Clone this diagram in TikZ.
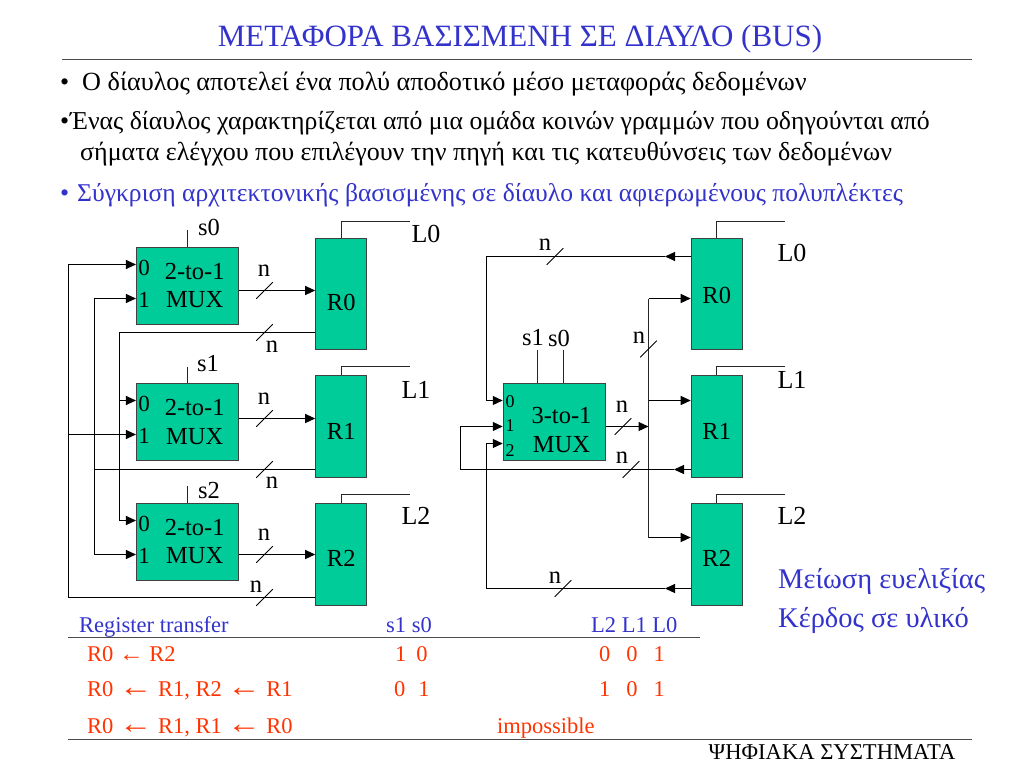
\documentclass[tikz,border=0pt]{standalone}
\usepackage{fontspec}
\setmainfont{Liberation Serif}
\usetikzlibrary{arrows.meta,calc}
\definecolor{teal0}{HTML}{00CC99}
\definecolor{blue0}{HTML}{3333CC}
\definecolor{red0}{HTML}{FF3300}
\newcommand{\fs}[1]{\fontsize{#1}{#1}\selectfont}
\newcommand{\bigarr}{{\fs{29}\scalebox{1.15}[1]{←}}}

\begin{document}
\begin{tikzpicture}[x=1pt,y=-1pt,
      muxbox/.style={draw=black!75, fill=teal0, line width=1pt, minimum width=102.5pt, minimum height=77pt, inner sep=0pt, align=center, font=\fs{24.5}},
      regbox/.style={draw=black!75, fill=teal0, line width=1pt, minimum width=51pt, inner sep=0pt, text depth=0pt, font=\fs{24.5}},
      lbl/.style={inner sep=0pt, font=\fs{24.5}},
      port/.style={inner sep=0pt, font=\fs{23}},
      txt/.style={anchor=base west, inner sep=0pt, font=\fs{26}},
      tbl/.style={anchor=base west, inner sep=0pt, font=\fs{22.5}},
      arr/.style={-{Stealth[length=10pt,width=9pt,inset=0pt]}, line width=1.1pt},
      wire/.style={line width=1.1pt, black!85},
      tick/.style={line width=0.8pt},
      rule/.style={line width=1pt, black!70}
    ]
    \useasboundingbox (0,0) rectangle (1024,768);

    % heading and text
    \node[inner sep=0pt, text=blue0, font=\fs{31}] (title) at (520,39) {ΜΕΤΑΦΟΡΑ ΒΑΣΙΣΜΕΝΗ ΣΕ ΔΙΑΥΛΟ (BUS)};
    \draw[rule] (62,59.5) -- (972,59.5);
    \node[txt] (b1) at (60,90) {•};
    \node[txt, font=\fs{26.2}] (t1) at (82,90) {Ο δίαυλος αποτελεί ένα πολύ αποδοτικό μέσο μεταφοράς δεδομένων};
    \node[txt] (b2) at (60,129) {•};
    \node[txt, font=\fs{25.75}] (t2) at (70,129) {Ένας δίαυλος χαρακτηρίζεται από μια ομάδα κοινών γραμμών που οδηγούνται από};
    \node[txt] (t3) at (80,160) {σήματα ελέγχου που επιλέγουν την πηγή και τις κατευθύνσεις των δεδομένων};
    \node[txt, text=blue0] (b4) at (60,201) {•};
    \node[txt, text=blue0, font=\fs{25.6}] (t4) at (77,201) {Σύγκριση αρχιτεκτονικής βασισμένης σε δίαυλο και αφιερωμένους πολυπλέκτες};

    % left: one mux per register
    \foreach \i/\ym/\yp in {0/285.5/264, 1/422/400.7, 2/541.5/520.7} {
      \node[muxbox] (mux\i) at (187.7,\ym) {\hspace*{14pt}2-to-1\\[4pt]\hspace*{14pt}MUX};
      \node[port] (pa\i) at (144,\yp+3.5) {0};
      \node[port] (pb\i) at (144,\yp+35.5) {1};
    }
    \node[regbox, minimum height=110.5pt, text height=32pt] (r0) at (341.2,294) {R0};
    \node[regbox, minimum height=102.7pt, text height=26pt] (r1) at (341.2,426.4) {R1};
    \node[regbox, minimum height=102.7pt, text height=24pt] (r2) at (341.2,554.4) {R2};

    \draw[arr] (mux0.east |- 0,290.5) -- (r0.west |- 0,290.5);
    \draw[arr] (mux1.east |- 0,418.5) -- (r1.west |- 0,418.5);
    \draw[arr] (mux2.east |- 0,554.5) -- (r2.west |- 0,554.5);

    \draw[arr] (r2.west |- 0,597.5) -- (68.5,597.5) -- (68.5,264.5) -- (mux0.west |- 0,264.5);
    \draw[arr] (68.5,434.5) -- (mux1.west |- 0,434.5);
    \draw[arr] (r1.west |- 0,469.5) -- (94.5,469.5) -- (94.5,298.5) -- (mux0.west |- 0,298.5);
    \draw[arr] (94.5,469.5) -- (94.5,554.5) -- (mux2.west |- 0,554.5);
    \draw[arr] (r0.west |- 0,332.5) -- (119.5,332.5) -- (119.5,520.5) -- (mux2.west |- 0,520.5);
    \draw[arr] (119.5,400.5) -- (mux1.west |- 0,400.5);

    % right: one mux shared
    \node[muxbox] (mux3) at (554.5,422) {};
    \node[lbl] (m3a) at (561.5,416) {3-to-1};
    \node[lbl] (m3b) at (561.5,445) {MUX};
    \node[port, font=\fs{18}] (pc0) at (510,402) {0};
    \node[port, font=\fs{18}] (pc1) at (510,426) {1};
    \node[port, font=\fs{18}] (pc2) at (510,451) {2};
    \node[regbox, minimum height=110.5pt, text height=18pt] (r3) at (716.7,294) {R0};
    \node[regbox, minimum height=102.7pt, text height=26pt] (r4) at (716.7,426.4) {R1};
    \node[regbox, minimum height=102.7pt, text height=24pt] (r5) at (716.7,554.4) {R2};

    \draw[arr] (mux3.east |- 0,426.5) -- (648.5,426.5);
    \draw[wire] (648.5,298.5) -- (648.5,537.5);
    \draw[arr] (648.5,298.5) -- (r3.west |- 0,298.5);
    \draw[arr] (648.5,400.5) -- (r4.west |- 0,400.5);
    \draw[arr] (648.5,537.5) -- (r5.west |- 0,537.5);

    \draw[arr] (r3.west |- 0,256.5) -- (665,256.5);
    \draw[arr] (665,256.5) -- (486.5,256.5) -- (486.5,400.5) -- (mux3.west |- 0,400.5);
    \draw[arr] (r4.west |- 0,469.5) -- (674,469.5);
    \draw[arr] (674,469.5) -- (460.5,469.5) -- (460.5,426.5) -- (mux3.west |- 0,426.5);
    \draw[arr] (r5.west |- 0,588.5) -- (665,588.5);
    \draw[arr] (665,588.5) -- (486.5,588.5) -- (486.5,443.5) -- (mux3.west |- 0,443.5);

    % select and load lines
    \coordinate (s0) at (187.5,230);
    \coordinate (s1) at (187.5,366.5);
    \coordinate (s2) at (187.5,486);
    \coordinate (s3) at (537.5,350);
    \coordinate (s4) at (563.5,350);
    \draw[wire] (s0) -- (mux0.north -| s0);
    \draw[wire] (s1) -- (mux1.north -| s1);
    \draw[wire] (s2) -- (mux2.north -| s2);
    \draw[wire] (s3) -- (mux3.north -| s3);
    \draw[wire] (s4) -- (mux3.north -| s4);
    \draw[wire] (r0.north) -- (341.2,221.5) -- (410,221.5);
    \draw[wire] (r1.north) -- (341.2,366.5) -- (410,366.5);
    \draw[wire] (r2.north) -- (341.2,494.5) -- (410,494.5);
    \draw[wire] (r3.north) -- (716.7,221.5) -- (785,221.5);
    \draw[wire] (r4.north) -- (716.7,366.5) -- (785,366.5);
    \draw[wire] (r5.north) -- (716.7,494.5) -- (785,494.5);

    % bus width marks
    \foreach \x/\y in {264.5/290.5, 264.5/332.5, 264.5/418.5, 264.5/469.5, 264.5/554.5, 264.5/597.5,
        555/256.5, 563/588.5, 648.5/349, 623/426.5, 631/469.5} {
      \draw[tick] (\x-8.3,\y+8.3) -- (\x+8.3,\y-8.3);
    }
    \foreach \x/\y/\nm in {264/271/a, 272/347/b, 264/399/c, 272/483/d, 264/535/e, 256/587/f,
        545/245/g, 555/578/h, 639/338/k, 622/407/l, 622/458/m} {
      \node[lbl] (n\nm) at (\x,\y) {n};
    }

    \node[lbl] (ls0) at (209,227) {s0};
    \node[lbl] (ls1) at (208,364) {s1};
    \node[lbl] (ls2) at (209,491) {s2};
    \node[lbl] (ls3) at (533,338) {s1};
    \node[lbl] (ls4) at (559,338) {s0};
    \node[lbl, font=\fs{26}] (l0) at (426,234) {L0};
    \node[lbl, font=\fs{26}] (l1) at (416,390) {L1};
    \node[lbl, font=\fs{26}] (l2) at (416,516) {L2};
    \node[lbl, font=\fs{26}] (l3) at (792,253) {L0};
    \node[lbl, font=\fs{26}] (l4) at (792,380) {L1};
    \node[lbl, font=\fs{26}] (l5) at (792,516) {L2};

    \node[txt, text=blue0, font=\fs{28.5}] (gain0) at (778,588) {Μείωση ευελιξίας};
    \node[txt, text=blue0, font=\fs{28.5}] (gain1) at (778,627) {Κέρδος σε υλικό};

    % table
    \node[tbl, text=blue0] (h0) at (79,632) {Register transfer};
    \node[tbl, text=blue0] (h1) at (386,632) {s1 s0};
    \node[tbl, text=blue0] (h2) at (591,632) {L2 L1 L0};
    \draw[rule] (68,637.5) -- (700,637.5);
    \node[tbl, text=red0] (a0) at (87,661) {R0 \scalebox{1.1}[1]{←} R2};
    \node[tbl, text=red0] (a1) at (395,661) {1\hspace{10pt}0};
    \node[tbl, text=red0] (a2) at (599,661) {0\hspace{16pt}0\hspace{16pt}1};
    \node[tbl, text=red0] (b0) at (87,696) {R0 \bigarr{} R1, R2 \bigarr{} R1};
    \node[tbl, text=red0] (b1r) at (394,696) {0\hspace{13pt}1};
    \node[tbl, text=red0] (b2r) at (599,696) {1\hspace{16pt}0\hspace{16pt}1};
    \node[tbl, text=red0] (c0) at (87,733) {R0 \bigarr{} R1, R1 \bigarr{} R0};
    \node[tbl, text=red0] (c1) at (497,733) {impossible};
    \draw[rule] (68,739.5) -- (972,739.5);
    \node[inner sep=0pt, font=\fs{22.6}] (foot) at (832,752) {ΨΗΦΙΑΚΑ ΣΥΣΤΗΜΑΤΑ};
  \end{tikzpicture}
\end{document}
